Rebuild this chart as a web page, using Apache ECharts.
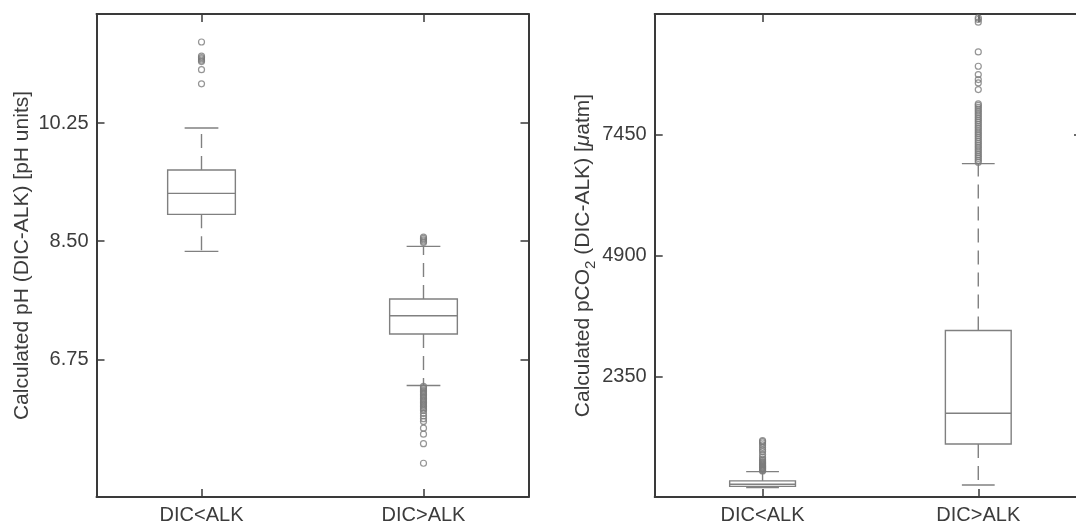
<!DOCTYPE html>
<html>
<head>
<meta charset="utf-8">
<script src="https://cdn.jsdelivr.net/npm/echarts@6/dist/echarts.min.js"></script>
<style>
html,body{margin:0;padding:0;background:#fff;}
#chart{width:1076px;height:527px;}
</style>
</head>
<body>
<div id="chart"></div>
<script>
// ---------- data ----------
const categories = ['DIC<ALK', 'DIC>ALK'];
const catPositions = [1, 2];

// [lower whisker, Q1, median, Q3, upper whisker]
const phStats = [
  [8.348, 8.897, 9.208, 9.554, 10.177],
  [6.362, 7.124, 7.395, 7.642, 8.422]
];
const phOutliersLow = [11.45, 11.24, 11.22, 11.20, 11.18, 11.16, 11.04, 10.83];
const phOutliersHigh = [8.56, 8.54, 8.52, 8.50, 8.48,
  6.35, 6.33, 6.31, 6.29, 6.27, 6.25, 6.23, 6.21, 6.19, 6.17, 6.15, 6.13, 6.11,
  6.09, 6.07, 6.05, 6.03, 6.01, 5.99, 5.95, 5.91, 5.87, 5.83, 5.73, 5.64, 5.50, 5.21];
const phTicks = [6.75, 8.50, 10.25];
const phRange = [4.71, 11.865];
const phXRange = [0.527, 2.473];

const co2Stats = [
  [0, 25, 70, 140, 335],
  [54, 920, 1569, 3315, 6840]
];
const co2OutliersLow = [350, 365, 380, 395, 410, 425, 440, 455, 470, 490, 510, 530, 550,
  575, 600, 640, 700, 760, 800, 850, 900, 940, 970, 990];
const co2OutliersHigh = [6870, 6910, 6950, 6990, 7030, 7070, 7110, 7150, 7190, 7230, 7270,
  7310, 7350, 7390, 7430, 7470, 7510, 7550, 7590, 7630, 7670, 7710, 7750, 7790, 7830, 7870,
  7910, 7950, 7990, 8030, 8070, 8100, 8404, 8545, 8616, 8721, 8897, 9199, 9827, 9884, 9920];
const co2Ticks = [2350, 4900, 7450];
const co2EdgeTicks = [7450];
const co2Range = [-200, 10000];
const co2XRange = [0.5, 2.453];   // panel is cut off by the image's right edge

// ---------- style ----------
const AXIS_COLOR = '#3a3a3a';
const TEXT_COLOR = '#3c3c3c';
const BOX_COLOR = '#808080';
const FONT = 'Liberation Sans, Arial, sans-serif';

function boxRender(params, api) {
  const xv = api.value(0);
  const unit = api.size([1, 0])[0];
  const bw = unit * 0.305, cw = unit * 0.152;
  const lo = api.coord([xv, api.value(1)]);
  const q1 = api.coord([xv, api.value(2)]);
  const md = api.coord([xv, api.value(3)]);
  const q3 = api.coord([xv, api.value(4)]);
  const hi = api.coord([xv, api.value(5)]);
  const cx = lo[0];
  const st = {stroke: BOX_COLOR, lineWidth: 1.4, fill: null};
  const dash = {stroke: BOX_COLOR, lineWidth: 1.4, lineDash: [14, 8]};
  return {
    type: 'group',
    children: [
      {type: 'rect', shape: {x: cx - bw / 2, y: q3[1], width: bw, height: q1[1] - q3[1]}, style: st},
      {type: 'line', shape: {x1: cx - bw / 2, y1: md[1], x2: cx + bw / 2, y2: md[1]}, style: st},
      {type: 'line', shape: {x1: cx, y1: q3[1], x2: cx, y2: hi[1]}, style: dash},
      {type: 'line', shape: {x1: cx, y1: q1[1], x2: cx, y2: lo[1]}, style: dash},
      {type: 'line', shape: {x1: cx - cw / 2, y1: hi[1], x2: cx + cw / 2, y2: hi[1]}, style: st},
      {type: 'line', shape: {x1: cx - cw / 2, y1: lo[1], x2: cx + cw / 2, y2: lo[1]}, style: st}
    ]
  };
}

function boxData(stats) {
  return stats.map((s, i) => [catPositions[i]].concat(s));
}
function outData(low, high) {
  return low.map(v => [catPositions[0], v]).concat(high.map(v => [catPositions[1], v]));
}

function xAxisPair(gridIndex, range) {
  const base = {
    type: 'value', gridIndex: gridIndex, min: range[0], max: range[1],
    axisLine: {show: true, onZero: false, lineStyle: {color: AXIS_COLOR, width: 2}},
    axisTick: {show: true, inside: true, length: 8, customValues: catPositions, lineStyle: {color: AXIS_COLOR, width: 1.5}},
    splitLine: {show: false}
  };
  return [
    Object.assign({}, base, {position: 'bottom',
      axisLabel: {show: true, customValues: catPositions, formatter: v => categories[catPositions.indexOf(v)],
        color: TEXT_COLOR, fontSize: 20, fontFamily: FONT, margin: 8}}),
    Object.assign({}, base, {position: 'top', axisLabel: {show: false}})
  ];
}

function yAxisPair(gridIndex, range, ticks, fmt, name, nameGap, rich, edgeTicks) {
  const base = {
    type: 'value', gridIndex: gridIndex, min: range[0], max: range[1],
    axisLine: {show: true, onZero: false, lineStyle: {color: AXIS_COLOR, width: 2}},
    axisTick: {show: true, inside: true, length: 8, customValues: ticks, lineStyle: {color: AXIS_COLOR, width: 1.5}},
    splitLine: {show: false}
  };
  const right = Object.assign({}, base, {position: 'right', axisLabel: {show: false}});
  if (edgeTicks) {
    right.axisLine = {show: false, onZero: false};
    right.axisTick = {show: true, inside: true, length: 2, customValues: edgeTicks, lineStyle: {color: AXIS_COLOR, width: 1.5}};
  }
  return [
    Object.assign({}, base, {position: 'left',
      axisLabel: {show: true, customValues: ticks, formatter: fmt, color: TEXT_COLOR, fontSize: 20, fontFamily: FONT, margin: 8},
      name: name, nameLocation: 'middle', nameGap: nameGap, nameRotate: 90,
      nameTextStyle: {color: TEXT_COLOR, fontSize: 21, fontFamily: FONT, rich: rich}
    }),
    right
  ];
}

const co2Rich = {
  a: {fontSize: 21, fontFamily: FONT, color: TEXT_COLOR, verticalAlign: 'top'},
  s: {fontSize: 15, fontFamily: FONT, color: TEXT_COLOR, lineHeight: 26, verticalAlign: 'bottom'},
  m: {fontSize: 21, fontFamily: FONT, color: TEXT_COLOR, verticalAlign: 'top', fontStyle: 'italic'}
};

const xs = xAxisPair(0, phXRange).concat(xAxisPair(1, co2XRange));
const ys = yAxisPair(0, phRange, phTicks, v => v.toFixed(2), 'Calculated pH (DIC-ALK) [pH units]', 64, {}, null)
  .concat(yAxisPair(1, co2Range, co2Ticks, v => String(v),
    '{a|Calculated pCO}{s|2}{a| (DIC-ALK) [}{m|μ}{a|atm]}', 44, co2Rich, co2EdgeTicks));

const scatterStyle = {color: 'rgba(0,0,0,0)', borderColor: '#7a7a7a', borderWidth: 1.2};

const option = {
  animation: false,
  backgroundColor: '#ffffff',
  grid: [
    {left: 96.5, top: 14, width: 432, height: 483},
    {left: 654.7, top: 14, width: 421.3, height: 483}
  ],
  xAxis: xs,
  yAxis: ys,
  series: [
    {type: 'custom', xAxisIndex: 0, yAxisIndex: 0, renderItem: boxRender, data: boxData(phStats),
      encode: {x: 0, y: [1, 2, 3, 4, 5]}, z: 2},
    {type: 'scatter', xAxisIndex: 0, yAxisIndex: 0, symbol: 'circle', symbolSize: 6,
      itemStyle: scatterStyle, data: outData(phOutliersLow, phOutliersHigh), z: 3},
    {type: 'custom', xAxisIndex: 2, yAxisIndex: 2, renderItem: boxRender, data: boxData(co2Stats),
      encode: {x: 0, y: [1, 2, 3, 4, 5]}, z: 2},
    {type: 'scatter', xAxisIndex: 2, yAxisIndex: 2, symbol: 'circle', symbolSize: 6,
      itemStyle: scatterStyle, data: outData(co2OutliersLow, co2OutliersHigh), z: 3}
  ]
};

const chart = echarts.init(document.getElementById('chart'), null, {renderer: 'canvas'});
chart.setOption(option);
</script>
</body>
</html>
